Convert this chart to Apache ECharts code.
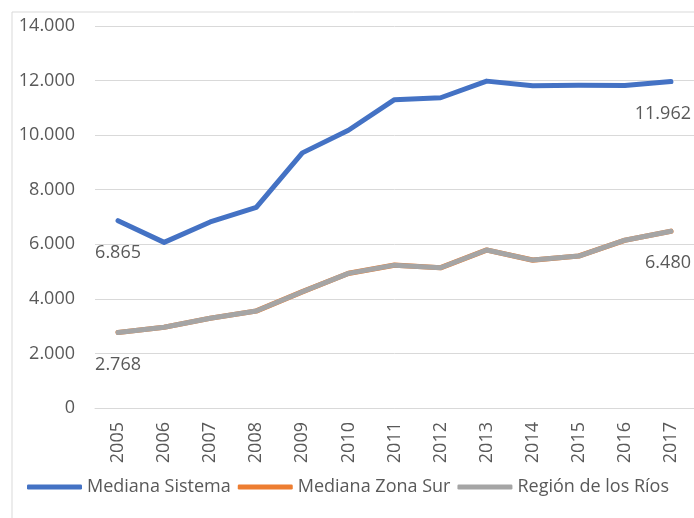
<!DOCTYPE html>
<html>
<head>
<meta charset="utf-8">
<script src="https://cdn.jsdelivr.net/npm/echarts@6/dist/echarts.min.js"></script>
<style>
  html, body { margin: 0; padding: 0; background: #fff; }
  #chart { width: 694px; height: 518px; }
</style>
</head>
<body>
<div id="chart"></div>
<script>
const years = ['2005', '2006', '2007', '2008', '2009', '2010', '2011', '2012', '2013', '2014', '2015', '2016', '2017'];
const medianaSistema = [6865, 6070, 6820, 7350, 9350, 10180, 11300, 11370, 11980, 11810, 11830, 11820, 11962];
const medianaZonaSur = [2768, 2960, 3290, 3555, 4260, 4935, 5235, 5140, 5790, 5420, 5570, 6150, 6480];
const regionLosRios = [2768, 2960, 3290, 3555, 4260, 4935, 5235, 5140, 5790, 5420, 5570, 6150, 6480];

const fmt = v => String(v).replace(/\B(?=(\d{3})+(?!\d))/g, '.');
const font = 'Open Sans';
const textColor = '#595959';

// only first and last point carry a label
const withEndLabels = (values, firstLabel, lastLabel) =>
  values.map((v, i) => {
    if (i === 0) return { value: v, label: Object.assign({ show: true }, firstLabel) };
    if (i === values.length - 1) return { value: v, label: Object.assign({ show: true }, lastLabel) };
    return v;
  });

const labelBase = {
  position: 'bottom',
  distance: 23,
  color: textColor,
  fontFamily: font,
  fontSize: 18,
  formatter: p => fmt(p.value)
};
const firstLbl = Object.assign({}, labelBase);
const lastLbl = Object.assign({}, labelBase, { align: 'right', offset: [20, 0] });

const chart = echarts.init(document.getElementById('chart'));

const option = {
  animation: false,
  graphic: [{
    type: 'rect',
    shape: { x: 12, y: 12, width: 720, height: 540 },
    style: { fill: 'none', stroke: '#d9d9d9', lineWidth: 1 },
    z: -1
  }],
  grid: { left: 95, top: 26, width: 605, height: 382 },
  legend: {
    left: 27,
    top: 478,
    padding: 0,
    itemWidth: 55,
    itemHeight: 5,
    itemGap: 7,
    icon: 'roundRect',
    textStyle: { color: textColor, fontFamily: font, fontSize: 18 },
    data: ['Mediana Sistema', 'Mediana Zona Sur', 'Región de los Ríos']
  },
  xAxis: {
    type: 'category',
    data: years,
    boundaryGap: true,
    axisLine: { show: true, lineStyle: { color: '#d9d9d9' } },
    axisTick: { show: false },
    axisLabel: { rotate: 90, margin: 14, color: textColor, fontFamily: font, fontSize: 18 }
  },
  yAxis: {
    type: 'value',
    min: 0,
    max: 14000,
    interval: 2000,
    axisLine: { show: false },
    axisTick: { show: false },
    splitLine: { lineStyle: { color: '#d9d9d9', width: 1 } },
    axisLabel: { margin: 20, color: textColor, fontFamily: font, fontSize: 18, formatter: v => fmt(v) }
  },
  series: [
    {
      name: 'Mediana Sistema',
      type: 'line',
      data: withEndLabels(medianaSistema, firstLbl, lastLbl),
      symbol: 'circle',
      symbolSize: 0.1,
      showSymbol: true,
      lineStyle: { color: '#4472c4', width: 5, cap: 'round', join: 'round' },
      itemStyle: { color: '#4472c4' }
    },
    {
      name: 'Mediana Zona Sur',
      type: 'line',
      data: medianaZonaSur,
      symbol: 'none',
      lineStyle: { color: '#ed7d31', width: 5.2, cap: 'round', join: 'round' },
      itemStyle: { color: '#ed7d31' }
    },
    {
      name: 'Región de los Ríos',
      type: 'line',
      data: withEndLabels(regionLosRios, firstLbl, lastLbl),
      symbol: 'circle',
      symbolSize: 0.1,
      showSymbol: true,
      lineStyle: { color: '#a5a5a5', width: 5, cap: 'round', join: 'round' },
      itemStyle: { color: '#a5a5a5' }
    }
  ]
};

chart.setOption(option);
</script>
</body>
</html>
